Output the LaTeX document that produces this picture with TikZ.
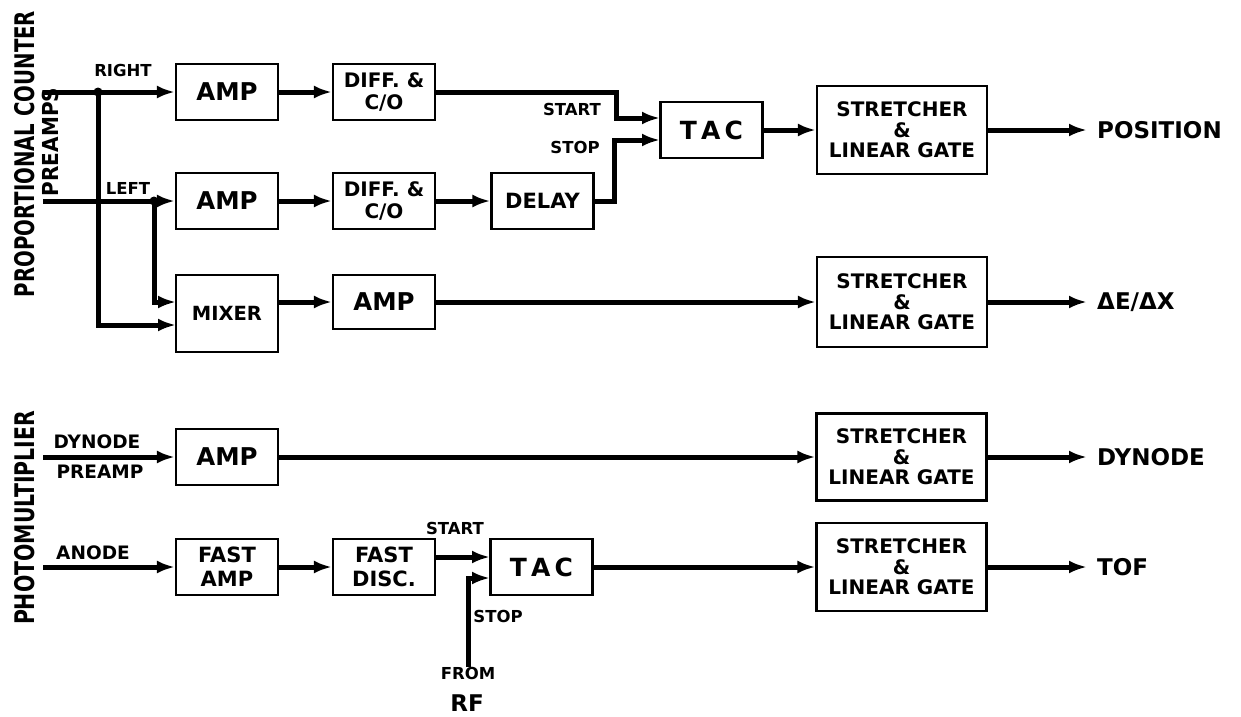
\documentclass[tikz,border=0pt]{standalone}
\usepackage{fontspec}
\setmainfont{DejaVu Sans}
\usetikzlibrary{arrows.meta}
\newcommand\myfs[2]{\fontsize{#1}{#2}\selectfont\bfseries}
\begin{document}
\begin{tikzpicture}[x=1pt,y=-1pt,
  box/.style={draw, line width=2.2pt, inner sep=0pt, align=center, font=\myfs{21}{23}},
  smallbox/.style={box, minimum width=102pt, minimum height=56pt},
  bigbox/.style={box, minimum width=170pt, minimum height=88pt, font=\myfs{20}{20.5}},
  conn/.style={line width=5pt, -{Latex[length=18pt,width=13pt]}},
  lab/.style={font=\myfs{16.5}{18}, inner sep=0pt},
  inlab/.style={font=\myfs{18.5}{20}, inner sep=0pt},
  sidelab/.style={font=\myfs{27}{28}, inner sep=0pt, rotate=90},
  outlab/.style={font=\myfs{23}{25}, anchor=west, inner xsep=10pt, inner ysep=0pt}]
\useasboundingbox (0,0) rectangle (1241,716);

% side labels
\node[sidelab] (pcl) at (25,154) {\scalebox{0.73}[1]{PROPORTIONAL COUNTER}};
\node[sidelab, font=\myfs{22}{24}] (pre) at (50,142) {\scalebox{0.91}[1]{PREAMPS}};
\node[sidelab] (pml) at (25,518) {\scalebox{0.756}[1]{PHOTOMULTIPLIER}};

% boxes
\node[smallbox, font=\myfs{24.5}{26}] (amp1) at (227,92) {AMP};
\node[smallbox, font=\myfs{20}{22}] (diff1) at (384,92) {DIFF. \&\\C/O};
\node[smallbox, font=\myfs{25}{26}] (tac1) at (711.5,130) {T\,A\,C};
\node[bigbox] (str1) at (902,130) {STRETCHER\\\&\\LINEAR GATE};

\node[smallbox, font=\myfs{24.5}{26}] (amp2) at (227,201) {AMP};
\node[smallbox, font=\myfs{20}{22}] (diff2) at (384,201) {DIFF. \&\\C/O};
\node[smallbox, font=\myfs{21}{23}] (delay) at (542.5,201) {DELAY};

\node[smallbox, minimum height=77pt, font=\myfs{19.5}{21}] (mixer) at (227,313.5) {MIXER};
\node[smallbox, minimum height=54pt, font=\myfs{24.5}{26}] (amp3) at (384,302) {AMP};
\node[bigbox, minimum height=90pt] (str2) at (902,302) {STRETCHER\\\&\\LINEAR GATE};

\node[smallbox, font=\myfs{24.5}{26}] (amp4) at (227,457) {AMP};
\node[bigbox, minimum height=87pt] (str3) at (901.5,457) {STRETCHER\\\&\\LINEAR GATE};

\node[smallbox, font=\myfs{21}{24}] (famp) at (227,567) {FAST\\AMP};
\node[smallbox, font=\myfs{21}{24}] (fdisc) at (384,567) {FAST\\DISC.};
\node[smallbox, font=\myfs{25}{26}] (tac2) at (541.5,567) {T\,A\,C};
\node[bigbox] (str4) at (901.5,567) {STRETCHER\\\&\\LINEAR GATE};

% text labels
\node[lab] (right) at (123,70) {RIGHT};
\node[lab] (left) at (128,188) {LEFT};
\node[lab] (start1) at (572,109) {START};
\node[lab] (stop1) at (575,147) {STOP};
\node[lab] (start2) at (455,528) {START};
\node[lab] (stop2) at (498,616) {STOP};
\node[lab] (from) at (468,673) {FROM};
\node[font=\myfs{23}{25}, inner sep=0pt] (rf) at (467,703) {RF};
\node[inlab] (dynin) at (97,442) {DYNODE};
\node[inlab] (prein) at (100,472) {PREAMP};
\node[inlab] (anin) at (93,553) {ANODE};

\node[outlab] (pos) at (1087,130) {POSITION};
\node[outlab] (dex) at (1087,302) {ΔE/ΔX};
\node[outlab] (dyo) at (1087,457) {DYNODE};
\node[outlab] (tof) at (1087,567) {TOF};

% coordinates
\coordinate (rin) at (43,92);
\coordinate (lin) at (43,201);
\coordinate (jr) at (98,92);
\coordinate (jl) at (154,201);
\coordinate (m1) at (176,302);
\coordinate (m2) at (176,325);
\coordinate (t1a) at (660,118);
\coordinate (t1b) at (660,140);
\coordinate (dyn) at (43,457);
\coordinate (anode) at (43,567);
\coordinate (t2a) at (490,557);
\coordinate (t2b) at (490,578);

% connectors
\draw[conn] (rin) -- (amp1.west);
\draw[conn] (amp1.east) -- (diff1.west);
\draw[conn] (diff1.east) -- ++(180,0) |- (t1a);
\draw[conn] (lin) -- (amp2.west);
\draw[conn] (amp2.east) -- (diff2.west);
\draw[conn] (diff2.east) -- (delay.west);
\draw[conn] (delay.east) -- ++(20,0) |- (t1b);
\draw[conn] (tac1.east) -- (str1.west);
\draw[conn] (str1.east) -- (pos.west);
\draw[conn] (jr) |- (m2);
\draw[conn] (jl) |- (m1);
\fill (jr) circle (4.5);
\fill (jl) circle (4.5);
\draw[conn] (mixer.east |- amp3.west) -- (amp3.west);
\draw[conn] (amp3.east) -- (str2.west);
\draw[conn] (str2.east) -- (dex.west);
\draw[conn] (dyn) -- (amp4.west);
\draw[conn] (amp4.east) -- (str3.west);
\draw[conn] (str3.east) -- (dyo.west);
\draw[conn] (anode) -- (famp.west);
\draw[conn] (famp.east) -- (fdisc.west);
\draw[conn] (fdisc.east |- t2a) -- (t2a);
\draw[conn] (from.north) |- (t2b);
\draw[conn] (tac2.east) -- (str4.west);
\draw[conn] (str4.east) -- (tof.west);
\end{tikzpicture}
\end{document}
